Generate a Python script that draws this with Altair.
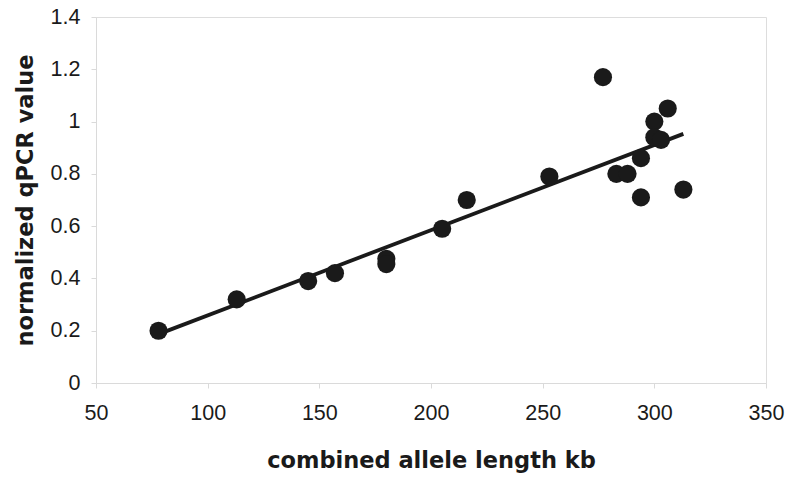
import altair as alt
import pandas as pd

allele_length_kb = [78, 113, 145, 157, 180, 180, 205, 216, 253, 277, 283, 288, 294, 294, 300, 300, 303, 306, 313]
qpcr_value = [0.20, 0.32, 0.39, 0.42, 0.475, 0.455, 0.59, 0.70, 0.79, 1.17, 0.80, 0.80, 0.86, 0.71, 1.00, 0.94, 0.93, 1.05, 0.74]

df = pd.DataFrame({"x": allele_length_kb, "y": qpcr_value})

xscale = alt.Scale(domain=[50, 350], nice=False, zero=False)
yscale = alt.Scale(domain=[0, 1.4], nice=False)

xaxis = alt.Axis(title="combined allele length kb", values=[50, 100, 150, 200, 250, 300, 350],
                 grid=False, domainColor="#dadada", tickColor="#dadada", tickSize=5,
                 labelFont="Liberation Sans", labelFontSize=21.5, labelColor="#1a1a1a", labelPadding=14,
                 titleFont="DejaVu Sans", titleFontSize=22.5, titleFontWeight="bold",
                 titleColor="#1a1a1a", titlePadding=26, labelFlush=False)
yaxis = alt.Axis(title="normalized qPCR value", values=[0, 0.2, 0.4, 0.6, 0.8, 1.0, 1.2, 1.4],
                 grid=False, domainColor="#dadada", tickColor="#dadada", tickSize=5,
                 labelFont="Liberation Sans", labelFontSize=21.5, labelColor="#1a1a1a", labelPadding=11,
                 titleFont="DejaVu Sans", titleFontSize=22.5, titleFontWeight="bold",
                 titleColor="#1a1a1a", titlePadding=13, labelFlush=False,
                 labelExpr="format(datum.value, '~g')")

points = alt.Chart(df).mark_circle(size=330, color="#1a1a1a", opacity=1).encode(
    x=alt.X("x:Q", scale=xscale, axis=xaxis),
    y=alt.Y("y:Q", scale=yscale, axis=yaxis),
)

trend = alt.Chart(df).transform_regression("x", "y").mark_line(color="#1a1a1a", strokeWidth=3.8).encode(
    x=alt.X("x:Q", scale=xscale),
    y=alt.Y("y:Q", scale=yscale),
)

chart = alt.layer(trend, points).properties(
    width=670, height=366,
    autosize=alt.AutoSizeParams(type="none"),
    padding={"left": 96, "top": 17, "right": 19, "bottom": 96},
).configure_view(stroke=None).configure(background="white")

chart.save("out.html", embed_options={"renderer": "svg", "actions": False})
